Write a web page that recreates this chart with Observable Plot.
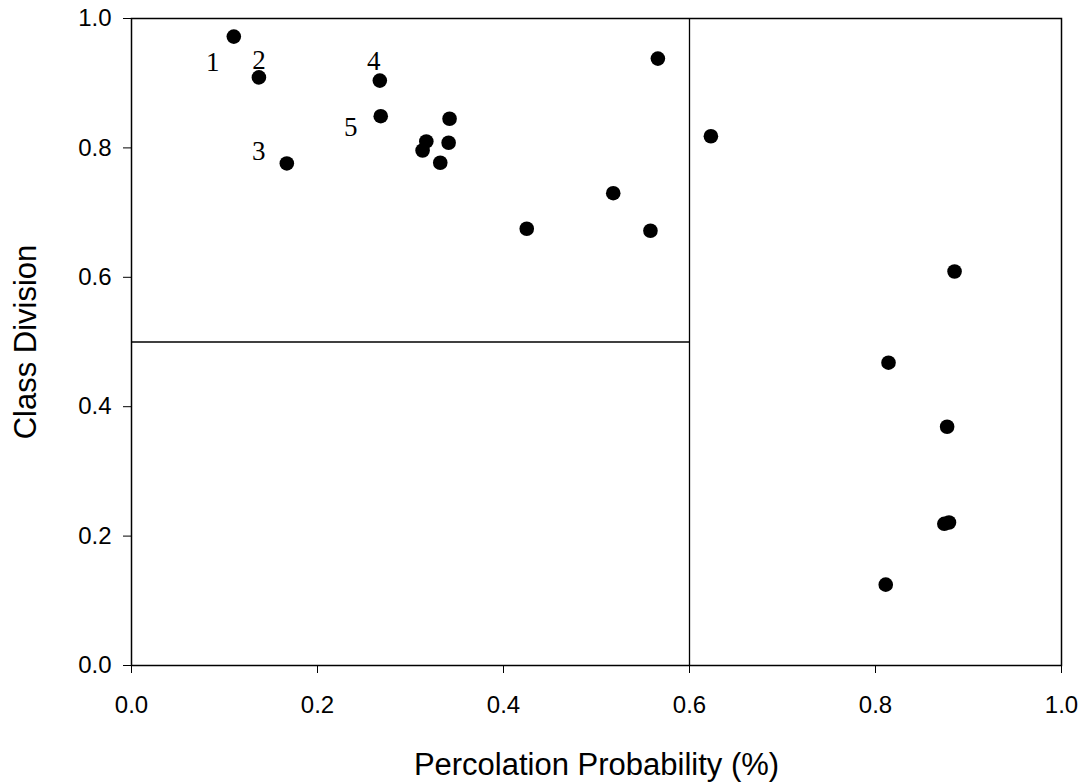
<!DOCTYPE html>
<html>
<head>
<meta charset="utf-8">
<script src="https://cdn.jsdelivr.net/npm/d3@7"></script>
<script src="https://cdn.jsdelivr.net/npm/@observablehq/plot@0.6"></script>
<style>
  html, body { margin: 0; padding: 0; background: #fff; }
  svg { display: block; }
</style>
</head>
<body>
<div id="chart"></div>
<script>
// Data
const percolation = [0.110, 0.137, 0.167, 0.267, 0.268, 0.342, 0.317, 0.313, 0.341, 0.332,
                     0.425, 0.518, 0.558, 0.566, 0.623, 0.885, 0.814, 0.877, 0.874, 0.879, 0.811];
const classDivision = [0.972, 0.909, 0.776, 0.904, 0.849, 0.845, 0.810, 0.796, 0.808, 0.777,
                       0.675, 0.730, 0.672, 0.938, 0.818, 0.609, 0.468, 0.369, 0.219, 0.221, 0.125];
const pointLabels = ["1", "2", "3", "4", "5"];
const ticks = [0, 0.2, 0.4, 0.6, 0.8, 1.0];
const thresholdX = 0.6;
const thresholdY = 0.5;

const points = percolation.map((x, i) => ({x, y: classDivision[i]}));
// label offsets (layout only)
const labelOffsets = [[-21, 26], [0, -17], [-28, -12], [-6, -19], [-30, 11]];
const labelMarks = pointLabels.map((t, i) =>
  Plot.text([{...points[i], t}], {
    x: "x", y: "y", text: "t",
    dx: labelOffsets[i][0], dy: labelOffsets[i][1],
    fontSize: 27, fontFamily: "Liberation Serif, serif", fill: "#000"
  })
);

const chart = Plot.plot({
  width: 1085,
  height: 782,
  marginLeft: 131,
  marginRight: 24,
  marginTop: 18,
  marginBottom: 117,
  style: {fontFamily: "Liberation Sans, Arial, sans-serif", color: "#000", background: "#fff"},
  x: {domain: [0, 1]},
  y: {domain: [0, 1]},
  marks: [
    Plot.frame({stroke: "#000", strokeWidth: 1.5}),
    Plot.ruleX([thresholdX], {y1: 0, y2: 1, stroke: "#000", strokeWidth: 1.3}),
    Plot.ruleY([thresholdY], {x1: 0, x2: thresholdX, stroke: "#000", strokeWidth: 1.3}),
    Plot.axisX({ticks, tickFormat: d3.format(".1f"), tickSize: 8, tickPadding: 22,
                fontSize: 24, label: null, stroke: "#000"}),
    Plot.axisY({ticks, tickFormat: d3.format(".1f"), tickSize: 8, tickPadding: 12,
                fontSize: 24, label: null, stroke: "#000"}),
    Plot.text(["Percolation Probability (%)"], {frameAnchor: "bottom", lineAnchor: "middle",
                textAnchor: "middle", dy: 100, fontSize: 31, fill: "#000"}),
    Plot.text(["Class Division"], {frameAnchor: "left", rotate: -90, dx: -105,
                textAnchor: "middle", lineAnchor: "middle", fontSize: 31, fill: "#000"}),
    Plot.dot(points, {x: "x", y: "y", r: 7.3, fill: "#000", stroke: "none"}),
    ...labelMarks
  ]
});
document.getElementById("chart").appendChild(chart);
</script>
</body>
</html>
